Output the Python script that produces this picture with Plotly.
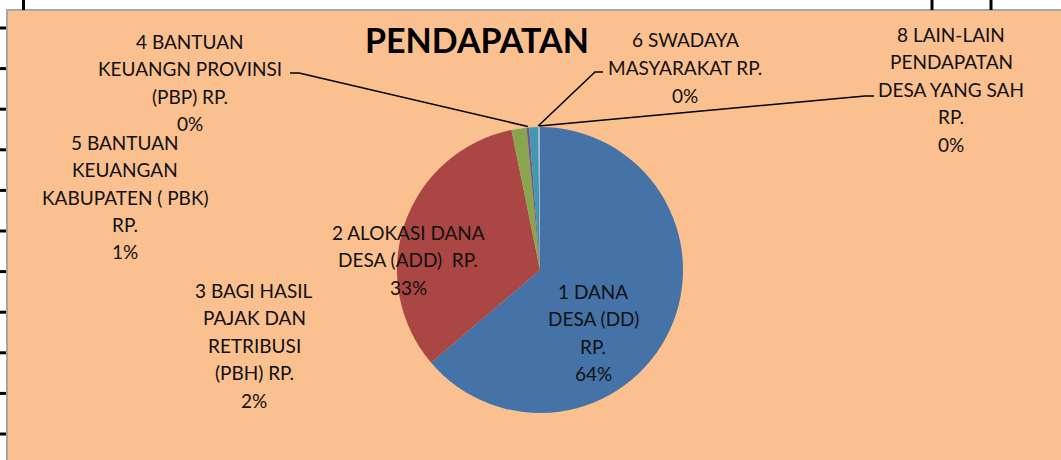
import math
import textwrap
import plotly.graph_objects as go

# ---------------- data ----------------
categories = [
    "1 DANA DESA (DD) RP.",
    "2 ALOKASI DANA DESA (ADD)  RP.",
    "3 BAGI HASIL PAJAK DAN RETRIBUSI (PBH) RP.",
    "4 BANTUAN KEUANGN PROVINSI (PBP) RP.",
    "5 BANTUAN KEUANGAN KABUPATEN ( PBK) RP.",
    "6 SWADAYA MASYARAKAT RP.",
    "8 LAIN-LAIN PENDAPATAN DESA YANG SAH RP.",
]
values = [63.8, 33.0, 1.7, 0.3, 1.0, 0.0, 0.2]
colors = ["#4572A7", "#AA4643", "#89A54E", "#71588F", "#4198AF", "#DB843D", "#A3B7D6"]
title_text = "PENDAPATAN"

# ---------------- layout constants ----------------
W, H = 1061, 460
CX, CY, R = 540, 270, 143
FONT = "Lato"
FSIZE = 19
PITCH = 27.5
BG = "#FAC090"

# label layout: wrap width, centre x, first-line centre y
label_layout = [
    (9, 593, 291),
    (16, 408, 232),
    (12, 254, 290),
    (16, 190, 41),
    (16, 125, 142),
    (14, 685, 40),
    (13, 951, 34),
]
# leader lines: label index -> anchor point near label text (pixels)
leaders = {3: [(290, 73), (299, 73)], 5: [(603, 72), (595, 72)], 6: [(874, 96), (865, 96)]}


def px(x, y):
    return x / W, 1 - y / H


total = sum(values)
pcts = [v / total * 100 for v in values]

fig = go.Figure()
x0, y1 = px(CX - R, CY - R)
x1, y0 = px(CX + R, CY + R)
fig.add_trace(go.Pie(
    labels=categories, values=values, sort=False, direction="clockwise",
    rotation=0, marker=dict(colors=colors, line=dict(width=0)),
    textinfo="none", hoverinfo="label+percent", showlegend=False,
    domain=dict(x=[x0, x1], y=[y0, y1]),
))

shapes = []
# chart area background
bx0, by0 = px(7, 10)
bx1, by1 = px(W + 10, H + 10)
shapes.append(dict(type="rect", xref="paper", yref="paper", x0=bx0, y0=by1, x1=bx1, y1=by0,
                   fillcolor=BG, line=dict(color="#A6A6A6", width=2), layer="below"))
# spreadsheet grid remnants
for gx in [23.5, 932, 991]:
    a = px(gx, 0); b = px(gx, 10)
    shapes.append(dict(type="line", xref="paper", yref="paper", x0=a[0], y0=a[1], x1=b[0], y1=b[1],
                       line=dict(color="black", width=3), layer="below"))
gy = 28.0
while gy < H:
    a = px(0, gy); b = px(6, gy)
    shapes.append(dict(type="line", xref="paper", yref="paper", x0=a[0], y0=a[1], x1=b[0], y1=b[1],
                       line=dict(color="black", width=3), layer="below"))
    gy += 40.6

# leader lines, ending at slice mid angle on the rim
cum = 0.0
mids = []
for v in values:
    mids.append((cum + v / 2) / total * 360)
    cum += v
for i, pts in leaders.items():
    ang = math.radians(mids[i])
    ex, ey = CX + (R + 1) * math.sin(ang), CY - (R + 1) * math.cos(ang)
    allp = pts + [(ex, ey)]
    path = ""
    for k, (xx, yy) in enumerate(allp):
        p = px(xx, yy)
        path += ("M" if k == 0 else " L") + f"{p[0]:.5f},{p[1]:.5f}"
    shapes.append(dict(type="path", xref="paper", yref="paper", path=path,
                       line=dict(color="black", width=1.5)))

annotations = []
for i, (wrap, lx, ly) in enumerate(label_layout):
    lines = textwrap.wrap(categories[i], width=wrap, break_on_hyphens=False)
    lines.append(f"{pcts[i]:.0f}%")
    for k, ln in enumerate(lines):
        p = px(lx, ly + k * PITCH)
        annotations.append(dict(text=ln, x=p[0], y=p[1], xref="paper", yref="paper",
                                xanchor="center", yanchor="middle", showarrow=False,
                                font=dict(family=FONT, size=FSIZE, color="#111111")))

tp = px(477, 40)
annotations.append(dict(text=f"<b>{title_text}</b>", x=tp[0], y=tp[1], xref="paper", yref="paper",
                        xanchor="center", yanchor="middle", showarrow=False,
                        font=dict(family=FONT, size=34, color="black")))

fig.update_layout(
    width=W, height=H, margin=dict(l=0, r=0, t=0, b=0),
    paper_bgcolor="white", plot_bgcolor="white",
    shapes=shapes, annotations=annotations,
)
fig.write_html("out.html", config={"displayModeBar": False},
               post_script="document.body.style.margin='0';document.body.style.padding='0';")
